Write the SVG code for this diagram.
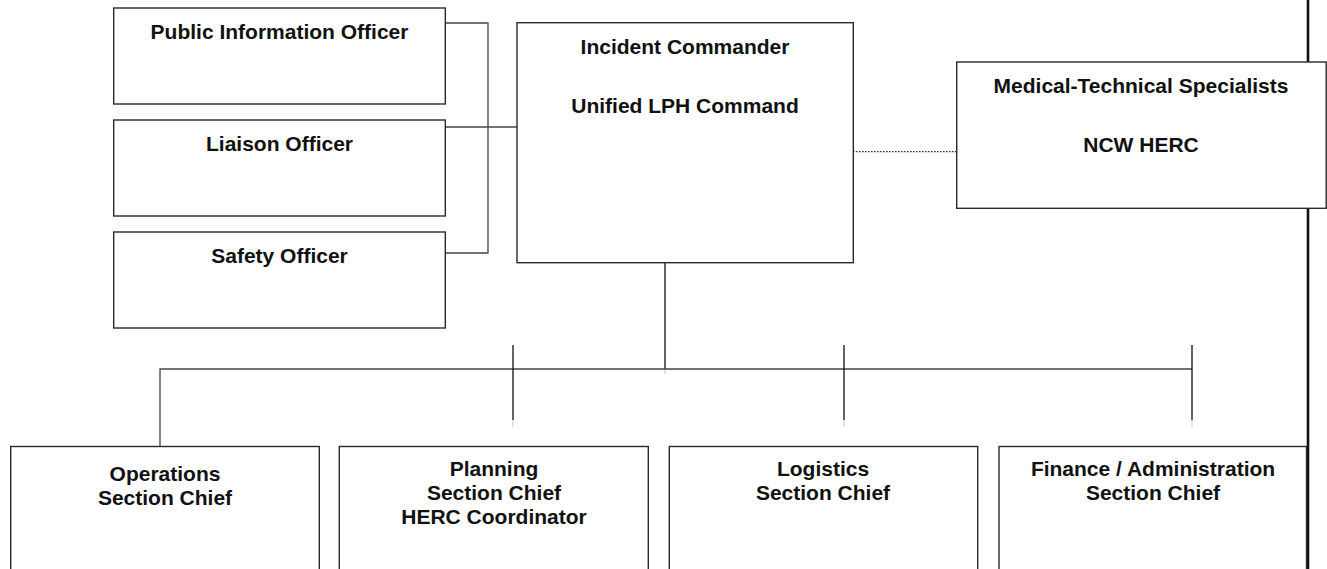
<svg xmlns="http://www.w3.org/2000/svg" width="1327" height="569" viewBox="0 0 1327 569">
<style>
.box{fill:#fff;stroke:#2a2a2a;stroke-width:1.4}
.t{font-family:"Liberation Sans",Arial,sans-serif;font-weight:bold;font-size:21px;fill:#111;text-anchor:middle}
.c{fill:none;stroke:#444;stroke-width:1.3}
.s{fill:none;stroke:#111;stroke-width:1.3}
.f{fill:none;stroke:#d4d4d4;stroke-width:1.3}
.d{fill:none;stroke:#333;stroke-width:1.3;stroke-dasharray:1.6 1.4}
</style>
<rect width="1327" height="569" fill="#fff"/>
<g id="connectors">
<path class="c" d="M445 23H488V253H445"/>
<path class="c" d="M445 127H517"/>
<path class="d" d="M853 151.7H957"/>
<path class="s" d="M665 263V369"/>
<path class="f" d="M665 369V374"/>
<path class="c" d="M160 446V369H1192"/>
<path class="s" d="M513 345V420M844 345V420M1192 345V420"/>
<path class="f" d="M513 420V427M844 420V427M1192 420V427"/>
<path fill="none" stroke="#111" stroke-width="2.6" d="M1308 0V569"/>
</g>
<g id="pio"><rect class="box" x="113.7" y="8" width="331.6" height="96"/><text class="t" x="279.5" y="39">Public Information Officer</text></g>
<g id="liaison"><rect class="box" x="113.7" y="120" width="331.6" height="96"/><text class="t" x="279.5" y="151">Liaison Officer</text></g>
<g id="safety"><rect class="box" x="113.7" y="232" width="331.6" height="96"/><text class="t" x="279.5" y="262.5">Safety Officer</text></g>
<g id="ic"><rect class="box" x="517" y="22.7" width="336.3" height="240"/><text class="t" x="685" y="54">Incident Commander</text><text class="t" x="685" y="113.3">Unified LPH Command</text></g>
<g id="mts"><rect class="box" x="956.7" y="62" width="369.5" height="146.3"/><text class="t" x="1141" y="93.3">Medical-Technical Specialists</text><text class="t" x="1141" y="151.7">NCW HERC</text></g>
<g id="ops"><rect class="box" x="10.7" y="446.5" width="308.6" height="130"/><text class="t" x="165" y="481">Operations</text><text class="t" x="165" y="505">Section Chief</text></g>
<g id="planning"><rect class="box" x="339.3" y="446.5" width="309" height="130"/><text class="t" x="494" y="476">Planning</text><text class="t" x="494" y="500">Section Chief</text><text class="t" x="494" y="524">HERC Coordinator</text></g>
<g id="logistics"><rect class="box" x="669.3" y="446.5" width="308.4" height="130"/><text class="t" x="823" y="476">Logistics</text><text class="t" x="823" y="500">Section Chief</text></g>
<g id="finance"><rect class="box" x="999" y="446.5" width="307.5" height="130"/><text class="t" x="1153" y="476">Finance / Administration</text><text class="t" x="1153" y="500">Section Chief</text></g>
</svg>
